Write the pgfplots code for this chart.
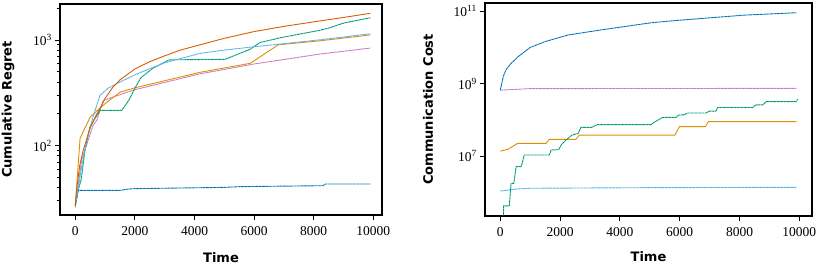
\documentclass[border=0pt]{standalone}
\usepackage{fontspec}
\setmainfont{Liberation Serif}
\newfontfamily\labfont{DejaVu Sans}
\usepackage{pgfplots}
\pgfplotsset{compat=1.18}
\definecolor{cbblue}{HTML}{0173B2}
\definecolor{cborange}{HTML}{DE8F05}
\definecolor{cbgreen}{HTML}{029E73}
\definecolor{cbred}{HTML}{D55E00}
\definecolor{cbpink}{HTML}{CC78BC}
\definecolor{cblight}{HTML}{56B4E9}

\pgfplotsset{
  panel/.style={
    scale only axis, anchor=south west,
    no markers,
    axis line style={line width=1.1pt},
    tick style={black, line width=0.9pt},
    tick align=outside, major tick length=5pt, minor tick length=3pt,
    xtick pos=bottom, ytick pos=left,
    xtick={0,2000,4000,6000,8000,10000},
    scaled x ticks=false,
    /pgf/number format/assume math mode=true,
    /pgf/number format/1000 sep={},
    tick label style={font=\fontsize{13.5}{15}\selectfont, inner sep=0pt},
    xticklabel style={yshift=-6pt},
    yticklabel style={xshift=-3pt},
    label style={font=\labfont\bfseries\fontsize{13}{15}\selectfont, inner sep=0pt},
    xlabel=Time,
    every axis plot/.append style={line width=0.9pt},
  },
}
\tikzset{dashy/.style={dash pattern=on 3pt off 0.5pt}}

\begin{document}
\begin{tikzpicture}
\useasboundingbox (0,0) rectangle (822pt,267pt);

%% left: cumulative regret
\begin{axis}[panel, ymode=log,
  at={(60pt,52pt)}, width=322pt, height=211pt,
  xmin=-513, xmax=10290, ymin=22, ymax=2200,
  ytick={100,1000}, yticklabels={10\textsuperscript{2},10\textsuperscript{3}},
  minor ytick={30,40,50,60,70,80,90,200,300,400,500,600,700,800,900,2000},
  ylabel={Cumulative Regret},
  xlabel style={at={(axis description cs:0.5,-0.1754)}, anchor=north},
  ylabel style={at={(axis description cs:-0.1615,0.5)}, anchor=center},
]
\addplot[cbblue, dashy] coordinates {
  (0,27) (100,37.7) (1500,37.7) (1800,38.8) (2000,39.1) (5000,40.2)
  (5500,40.8) (6000,41) (8300,41.7) (8400,43.3) (9900,43.3)
};
\addplot[cbpink, dashy] coordinates {
  (0,27) (210,73) (600,156) (720,174) (940,268) (1500,304) (2000,339)
  (4180,479) (6000,594) (8211,738) (9900,841)
};
\addplot[cborange] coordinates {
  (0,27) (160,117) (500,187) (1000,250) (1500,321) (2000,353) (4180,495)
  (5870,603) (6812,903) (8211,985) (9900,1120)
};
\addplot[cbgreen, dashy] coordinates {
  (0,27) (100,38) (200,48) (325,91) (490,151) (830,216) (1560,216)
  (1800,270) (2000,350) (2200,440) (2600,540) (3150,650) (5030,658)
  (5870,820) (6200,950) (7000,1070) (8211,1240) (8500,1300) (9000,1450)
  (9900,1630)
};
\addplot[cblight, dashy] coordinates {
  (0,26) (200,60) (400,115) (600,190) (830,300) (1100,350) (1500,400)
  (2000,470) (3000,610) (4180,748) (5000,805) (6000,865) (6850,916)
  (8211,1007) (9000,1070) (9900,1150)
};
\addplot[cbred] coordinates {
  (0,27) (50,40) (150,65) (270,91) (490,145) (700,195) (830,225)
  (1000,280) (1250,355) (1500,420) (2000,533) (2500,625) (3000,710)
  (3500,800) (4180,903) (5000,1040) (6000,1205) (7000,1350) (8000,1490)
  (9000,1640) (9900,1796)
};
\end{axis}

%% right: communication cost
\begin{axis}[panel, ymode=log,
  at={(485pt,51pt)}, width=327pt, height=213pt,
  xmin=-512, xmax=10425, ymin=2.21e5, ymax=1.69e11,
  ytick={1e7,1e9,1e11},
  yticklabels={10\textsuperscript{7},10\textsuperscript{9},10\textsuperscript{11}},
  minor ytick={},
  ylabel={Communication Cost},
  xlabel style={at={(axis description cs:0.5,-0.1676)}, anchor=north},
  ylabel style={at={(axis description cs:-0.1743,0.5)}, anchor=center},
]
\addplot[cblight, dashy] coordinates {
  (0,1.08e6) (500,1.22e6) (1000,1.29e6) (5000,1.34e6) (9900,1.37e6)
};
\addplot[cborange] coordinates {
  (0,1.37e7) (250,1.53e7) (580,2.24e7) (1530,2.24e7) (1640,2.9e7)
  (2530,2.9e7) (2640,3.8e7) (5840,3.8e7) (5990,6.5e7) (6860,6.5e7)
  (6960,8.9e7) (9900,8.9e7)
};
\addplot[cbgreen, dashy] coordinates {
  (100,1.5e5) (113,4.2e5) (300,4.2e5) (360,1.76e6) (450,1.76e6)
  (530,5.1e6) (700,5.1e6) (800,1.07e7) (1640,1.07e7) (1700,1.47e7)
  (1950,1.5e7) (2050,2.1e7) (2200,2.8e7) (2400,3.8e7) (2600,4.2e7)
  (2700,6.2e7) (3050,6.2e7) (3250,7.4e7) (5040,7.4e7) (5140,8.5e7)
  (5430,1.17e8) (5880,1.17e8) (5950,1.35e8) (6150,1.38e8) (6250,1.55e8)
  (6880,1.55e8) (6990,1.74e8) (7210,1.74e8) (7270,2.2e8) (8440,2.2e8)
  (8550,2.6e8) (8780,2.6e8) (8890,3.2e8) (9890,3.2e8) (9950,3.7e8)
};
\addplot[cbpink, dashy] coordinates {
  (0,6.6e8) (1000,7.3e8) (9900,7.4e8)
};
\addplot[cbblue, dashy] coordinates {
  (0,6.6e8) (100,1.6e9) (200,2.5e9) (357,3.6e9) (600,5.6e9) (1000,1.0e10)
  (1500,1.45e10) (2254,2.2e10) (3368,3.05e10) (5040,4.8e10) (5930,5.6e10)
  (8150,7.8e10) (9900,9.1e10)
};
\end{axis}
\end{tikzpicture}
\end{document}
